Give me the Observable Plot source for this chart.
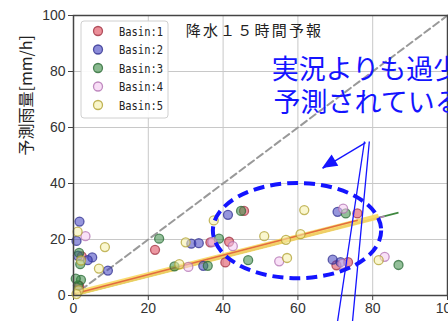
<!DOCTYPE html>
<html><head><meta charset="utf-8">
<script src="https://cdn.jsdelivr.net/npm/d3@7"></script>
<script src="https://cdn.jsdelivr.net/npm/@observablehq/plot@0.6"></script>
<style>
html,body{margin:0;padding:0;background:#fff;}
#chart{width:448px;height:321px;overflow:hidden;position:relative;}
</style></head><body><div id="chart"></div>
<script>
// ---- data ----
const basins = ["Basin:1", "Basin:2", "Basin:3", "Basin:4", "Basin:5"];
const fillColors = ["#dd4455", "#4040c0", "#3a8a45", "#f4c8f0", "#f5f0a8"];
const strokeColors = ["#a03040", "#303090", "#2a6a35", "#b070b0", "#b0a030"];

const obs1 = [21.8, 36.6, 40.6, 41.6, 45.6, 75.9, 73.4, 70.3, 2.2, 1.5];
const pred1 = [16.3, 19.0, 11.8, 19.2, 30.2, 29.3, 11.9, 10.8, 14.0, 3.5];
const obs2 = [1.6, 0.8, 5.0, 3.8, 9.2, 31.5, 33.5, 34.7, 41.3, 70.6, 69.3, 71.4, 1.2];
const pred2 = [26.4, 19.5, 13.6, 12.6, 8.9, 18.5, 18.7, 10.6, 28.8, 29.9, 12.8, 11.9, 14.2];
const obs3 = [1.5, 1.8, 2.0, 1.2, 22.9, 38.9, 27.0, 35.9, 44.8, 46.7, 72.8, 86.9, 0.6];
const pred3 = [15.2, 11.2, 5.6, 3.6, 20.3, 20.3, 10.4, 10.6, 30.2, 12.6, 29.3, 10.9, 6.0];
const obs4 = [3.2, 30.7, 37.1, 42.6, 55.0, 72.1, 83.2, 71.9];
const pred4 = [21.2, 10.2, 19.1, 17.6, 12.2, 31.0, 13.8, 11.3];
const obs5 = [1.1, 8.4, 2.0, 6.8, 1.4, 30.0, 28.3, 37.5, 51.0, 57.1, 61.7, 56.8, 60.7, 81.6, 0.8];
const pred5 = [22.8, 17.3, 12.5, 9.6, 1.8, 19.0, 11.2, 26.8, 21.2, 13.4, 30.5, 19.9, 21.9, 12.6, 0.5];

// fitted lines per basin (start / end)
const fitX0 = [0, 0, 0, 0, 0];
const fitY0 = [0.5, 0.2, 0.0, 0.4, 0.6];
const fitX1 = [76.0, 71.4, 86.9, 83.2, 81.6];
const fitY1 = [26.9, 24.2, 29.6, 28.3, 28.2];

const xTicks = [0, 20, 40, 60, 80, 100];
const yTicks = [0, 20, 40, 60, 80, 100];
const oneToOneX = [2, 100];
const oneToOneY = [2, 100];

const titleText = "降水１５時間予報";
const yLabel = "予測雨量[mm/h]";
const noteLines = ["実況よりも過少に", "予測されている"];
const noteX = [53.0, 53.5];
const noteY = [80.4, 68.8];

// annotation geometry in data units
const ellipseC = [59.9, 23.0];
const ellipseR = [22.5, 17.0];
const arrowFrom = [78.1, 54.6];
const arrowTo = [66.6, 45.4];
const leaderX1 = [77.8, 79.1];
const leaderY1 = [55.0, 55.0];
const leaderX2 = [70.6, 74.6];
const leaderY2 = [-9.3, -9.3];

// ---- build tables ----
const obsList = [obs1, obs2, obs3, obs4, obs5];
const predList = [pred1, pred2, pred3, pred4, pred5];
const points = [];
obsList.forEach((obs, i) => obs.forEach((o, j) => points.push({b: i, obs: o, pred: predList[i][j]})));
const fits = basins.map((b, i) => ({b: i, x1: fitX0[i], y1: fitY0[i], x2: fitX1[i], y2: fitY1[i]}));
const fitOrder = [2, 1, 3, 4, 0];
const fitWidth = [1.6, 1.5, 1.6, 1.5, 5.5];
const fitColor = ["#e0603a", "#5a4a6a", "#2a7a2a", "#c080c0", "#f8d860"];
const leaders = leaderX1.map((v, i) => ({x1: v, y1: leaderY1[i], x2: leaderX2[i], y2: leaderY2[i]}));
const blue = "#1414ff";

const plot = Plot.plot({
  width: 448, height: 321,
  marginLeft: 73, marginRight: 1, marginTop: 15, marginBottom: 26,
  style: {fontFamily: "'Liberation Sans', Arial, sans-serif", fontSize: "14px", color: "#333", background: "#fff", overflow: "visible"},
  x: {domain: [0, 100]},
  y: {domain: [0, 100]},
  marks: [
    Plot.gridX(xTicks, {stroke: "#c8c8c8", strokeOpacity: 1}),
    Plot.gridY(yTicks, {stroke: "#c8c8c8", strokeOpacity: 1}),
    Plot.axisX({ticks: xTicks, tickSize: 5, tickPadding: 3, label: null, stroke: "#444", fill: "#333"}),
    Plot.axisY({ticks: yTicks, tickSize: 5, tickPadding: 3, label: null, stroke: "#444", fill: "#333"}),
    Plot.line(oneToOneX.map((v, i) => [v, oneToOneY[i]]), {stroke: "#999", strokeWidth: 2, strokeDasharray: "7,4"}),
    Plot.link(fitOrder.map(i => fits[i]), {x1: "x1", y1: "y1", x2: "x2", y2: "y2",
      stroke: d => fitColor[d.b], strokeWidth: d => fitWidth[d.b], strokeOpacity: 0.9}),
    Plot.dot(points, {x: "obs", y: "pred", r: 4.5,
      fill: d => fillColors[d.b], fillOpacity: 0.55,
      stroke: d => strokeColors[d.b], strokeOpacity: 0.75, strokeWidth: 1.3}),
    Plot.frame({stroke: "#444", strokeWidth: 1.5}),
    Plot.text([titleText], {x: 30, y: 94.3, textAnchor: "start", fontSize: 15, fill: "#222",
      fontFamily: "'Noto Sans CJK JP', sans-serif"}),
    Plot.text([yLabel], {frameAnchor: "left", rotate: -90, dx: -47, fontSize: 16, fill: "#222",
      fontFamily: "'Noto Sans CJK JP', sans-serif"}),
    Plot.text(noteLines, {x: (d, i) => noteX[i], y: (d, i) => noteY[i], textAnchor: "start", fontSize: 27,
      fill: blue, fontFamily: "'Noto Sans CJK JP', sans-serif"}),
    Plot.link(leaders, {x1: "x1", y1: "y1", x2: "x2", y2: "y2", stroke: blue, strokeWidth: 1.3}),
    Plot.link([{a: arrowFrom, b: arrowTo}], {x1: d => d.a[0], y1: d => d.a[1], x2: d => d.b[0], y2: d => d.b[1], stroke: blue, strokeWidth: 1.3})
  ]
});

document.getElementById("chart").appendChild(plot);
const svg = d3.select(plot);
svg.selectAll("text").filter(function() { return this.textContent === titleText; }).attr("letter-spacing", "2.2px");
const sx = plot.scale("x"), sy = plot.scale("y");

// ellipse
const cx = sx.apply(ellipseC[0]), cy = sy.apply(ellipseC[1]);
const rx = sx.apply(ellipseC[0] + ellipseR[0]) - cx, ry = cy - sy.apply(ellipseC[1] + ellipseR[1]);
svg.append("ellipse").attr("cx", cx).attr("cy", cy).attr("rx", rx).attr("ry", ry)
  .attr("fill", "none").attr("stroke", blue).attr("stroke-width", 4).attr("stroke-dasharray", "11,6");

// arrow head
const ax0 = sx.apply(arrowFrom[0]), ay0 = sy.apply(arrowFrom[1]);
const ax1 = sx.apply(arrowTo[0]), ay1 = sy.apply(arrowTo[1]);
const ang = Math.atan2(ay1 - ay0, ax1 - ax0);
const hl = 15, hw = 6.5;
const bx = ax1 - hl * Math.cos(ang), by = ay1 - hl * Math.sin(ang);
const pts = [[ax1, ay1], [bx + hw * Math.sin(ang), by - hw * Math.cos(ang)], [bx - hw * Math.sin(ang), by + hw * Math.cos(ang)]];
svg.append("polygon").attr("points", pts.map(p => p.join(",")).join(" ")).attr("fill", blue);

// legend
const lg = svg.append("g").attr("text-anchor", "start");
lg.append("rect").attr("x", 81).attr("y", 21).attr("width", 87).attr("height", 97).attr("rx", 3)
  .attr("fill", "#fff").attr("fill-opacity", 0.9).attr("stroke", "#d0d0d0");
basins.forEach((b, i) => {
  const yy = 31 + i * 18.5;
  lg.append("circle").attr("cx", 98).attr("cy", yy).attr("r", 4.5)
    .attr("fill", fillColors[i]).attr("fill-opacity", 0.6)
    .attr("stroke", strokeColors[i]).attr("stroke-opacity", 0.8).attr("stroke-width", 1.3);
  lg.append("text").attr("x", 119).attr("y", yy).attr("dy", "0.36em").attr("text-anchor", "start")
    .attr("font-family", "'DejaVu Sans Mono', monospace").attr("font-size", 13)
    .attr("textLength", 44).attr("lengthAdjust", "spacingAndGlyphs")
    .attr("fill", "#222").text(b);
});
</script></body></html>
